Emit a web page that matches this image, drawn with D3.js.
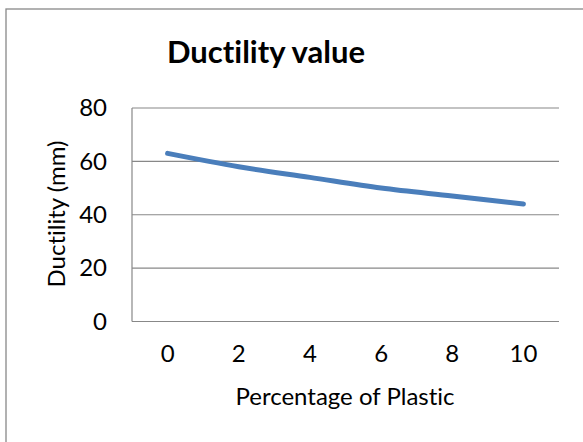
<!DOCTYPE html>
<html><head><meta charset="utf-8">
<script src="https://cdn.jsdelivr.net/npm/d3@7/dist/d3.min.js"></script>
<style>body{margin:0;background:#fff;} svg{display:block;} text{font-variant-ligatures:none;font-feature-settings:"liga" 0;}</style>
</head><body>
<script>
const categories = ["0","2","4","6","8","10"];
const ductility = [63, 58, 54, 50, 47, 44];
const yTicks = [0, 20, 40, 60, 80];
const title = "Ductility value";
const xTitle = "Percentage of Plastic";
const yTitle = "Ductility (mm)";

const W = 583, H = 442;
const font = "Lato, 'Open Sans', sans-serif";
const svg = d3.select("body").append("svg").attr("width", W).attr("height", H);

// outer chart frame (cropped on right/bottom)
svg.append("rect").attr("x", 6).attr("y", 9).attr("width", 600).attr("height", 460)
  .attr("fill", "#fff").attr("stroke", "#888").attr("stroke-width", 1.3);

const plot = {left: 132, top: 108, right: 559, bottom: 321.5};
const x = d3.scaleBand().domain(categories).range([plot.left, plot.right]);
const y = d3.scaleLinear().domain([0, 80]).range([plot.bottom, plot.top]);

// gridlines
svg.append("g").selectAll("line").data(yTicks).join("line")
  .attr("x1", plot.left).attr("x2", plot.right)
  .attr("y1", d => y(d)).attr("y2", d => y(d))
  .attr("stroke", "#888").attr("stroke-width", 1.2);

// y axis line
svg.append("line").attr("x1", plot.left).attr("x2", plot.left)
  .attr("y1", plot.top).attr("y2", plot.bottom).attr("stroke", "#888").attr("stroke-width", 1.2);

// y tick labels
const yAxis = d3.axisLeft(y).tickValues(yTicks).tickSize(0).tickPadding(25);
const gy = svg.append("g").attr("transform", `translate(${plot.left},0)`).call(yAxis);
gy.select(".domain").remove();
gy.selectAll("text").attr("font-family", font).attr("font-size", 24).attr("fill", "#000");

// x tick labels
const xAxis = d3.axisBottom(x).tickSize(0).tickPadding(23.5);
const gx = svg.append("g").attr("transform", `translate(0,${plot.bottom})`).call(xAxis);
gx.select(".domain").remove();
gx.selectAll("text").attr("font-family", font).attr("font-size", 24).attr("fill", "#000");

// line
const line = d3.line()
  .x((d, i) => x(categories[i]) + x.bandwidth() / 2)
  .y(d => y(d))
  .curve(d3.curveCatmullRom.alpha(0.5));
svg.append("path").datum(ductility).attr("d", line)
  .attr("fill", "none").attr("stroke", "#4a7ebb").attr("stroke-width", 5)
  .attr("stroke-linecap", "round").attr("stroke-linejoin", "round");

// titles
svg.append("text").attr("x", 266).attr("y", 63).attr("text-anchor", "middle")
  .attr("font-family", font).attr("font-weight", "bold").attr("font-size", 31).attr("fill", "#000").text(title);
svg.append("text").attr("x", 345).attr("y", 405).attr("text-anchor", "middle")
  .attr("font-family", font).attr("font-size", 24).attr("fill", "#000").text(xTitle);
svg.append("text").attr("transform", "translate(65,214) rotate(-90)").attr("text-anchor", "middle")
  .attr("font-family", font).attr("font-size", 24).attr("fill", "#000").text(yTitle);
</script>
</body></html>
